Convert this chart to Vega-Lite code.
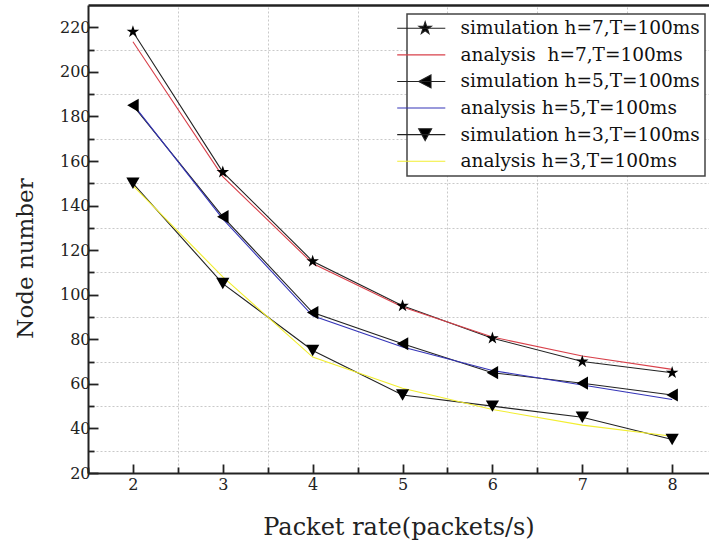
{
  "$schema": "https://vega.github.io/schema/vega-lite/v6.json",
  "width": 621,
  "height": 468,
  "autosize": "none",
  "padding": {"left": 88, "top": 5, "right": 0, "bottom": 74},
  "background": "white",
  "config": {
    "view": {"stroke": null},
    "font": "DejaVu Serif",
    "axis": {
      "labelFont": "DejaVu Serif",
      "titleFont": "DejaVu Serif",
      "labelColor": "#222",
      "titleColor": "#222",
      "domainColor": "#222",
      "tickColor": "#222"
    }
  },
  "data": {
    "values": [
      {"x": 2, "y": 218, "series": "simulation h=7,T=100ms", "type": "sim"},
      {"x": 3, "y": 155, "series": "simulation h=7,T=100ms", "type": "sim"},
      {"x": 4, "y": 115, "series": "simulation h=7,T=100ms", "type": "sim"},
      {"x": 5, "y": 95, "series": "simulation h=7,T=100ms", "type": "sim"},
      {"x": 6, "y": 80.5, "series": "simulation h=7,T=100ms", "type": "sim"},
      {"x": 7, "y": 70, "series": "simulation h=7,T=100ms", "type": "sim"},
      {"x": 8, "y": 65, "series": "simulation h=7,T=100ms", "type": "sim"},
      {"x": 2, "y": 213.5, "series": "analysis\u00a0 h=7,T=100ms", "type": "ana"},
      {"x": 3, "y": 153, "series": "analysis\u00a0 h=7,T=100ms", "type": "ana"},
      {"x": 4, "y": 114, "series": "analysis\u00a0 h=7,T=100ms", "type": "ana"},
      {"x": 5, "y": 94.5, "series": "analysis\u00a0 h=7,T=100ms", "type": "ana"},
      {"x": 6, "y": 81, "series": "analysis\u00a0 h=7,T=100ms", "type": "ana"},
      {"x": 7, "y": 72.5, "series": "analysis\u00a0 h=7,T=100ms", "type": "ana"},
      {"x": 8, "y": 66.5, "series": "analysis\u00a0 h=7,T=100ms", "type": "ana"},
      {"x": 2, "y": 185, "series": "simulation h=5,T=100ms", "type": "sim"},
      {"x": 3, "y": 135, "series": "simulation h=5,T=100ms", "type": "sim"},
      {"x": 4, "y": 92, "series": "simulation h=5,T=100ms", "type": "sim"},
      {"x": 5, "y": 78, "series": "simulation h=5,T=100ms", "type": "sim"},
      {"x": 6, "y": 65, "series": "simulation h=5,T=100ms", "type": "sim"},
      {"x": 7, "y": 60.3, "series": "simulation h=5,T=100ms", "type": "sim"},
      {"x": 8, "y": 55, "series": "simulation h=5,T=100ms", "type": "sim"},
      {"x": 2, "y": 185.5, "series": "analysis h=5,T=100ms", "type": "ana"},
      {"x": 3, "y": 134, "series": "analysis h=5,T=100ms", "type": "ana"},
      {"x": 4, "y": 90.5, "series": "analysis h=5,T=100ms", "type": "ana"},
      {"x": 5, "y": 76.5, "series": "analysis h=5,T=100ms", "type": "ana"},
      {"x": 6, "y": 66, "series": "analysis h=5,T=100ms", "type": "ana"},
      {"x": 7, "y": 59.5, "series": "analysis h=5,T=100ms", "type": "ana"},
      {"x": 8, "y": 53, "series": "analysis h=5,T=100ms", "type": "ana"},
      {"x": 2, "y": 150, "series": "simulation h=3,T=100ms", "type": "sim"},
      {"x": 3, "y": 105, "series": "simulation h=3,T=100ms", "type": "sim"},
      {"x": 4, "y": 75, "series": "simulation h=3,T=100ms", "type": "sim"},
      {"x": 5, "y": 55, "series": "simulation h=3,T=100ms", "type": "sim"},
      {"x": 6, "y": 50, "series": "simulation h=3,T=100ms", "type": "sim"},
      {"x": 7, "y": 45, "series": "simulation h=3,T=100ms", "type": "sim"},
      {"x": 8, "y": 35, "series": "simulation h=3,T=100ms", "type": "sim"},
      {"x": 2, "y": 149, "series": "analysis h=3,T=100ms", "type": "ana"},
      {"x": 3, "y": 108, "series": "analysis h=3,T=100ms", "type": "ana"},
      {"x": 4, "y": 72, "series": "analysis h=3,T=100ms", "type": "ana"},
      {"x": 5, "y": 58, "series": "analysis h=3,T=100ms", "type": "ana"},
      {"x": 6, "y": 48.5, "series": "analysis h=3,T=100ms", "type": "ana"},
      {"x": 7, "y": 41.5, "series": "analysis h=3,T=100ms", "type": "ana"},
      {"x": 8, "y": 36.5, "series": "analysis h=3,T=100ms", "type": "ana"}
    ]
  },
  "resolve": {"axis": {"x": "independent", "y": "independent"}},
  "layer": [
    {
      "mark": {"type": "line", "strokeWidth": 1.1},
      "encoding": {
        "x": {
          "field": "x", "type": "quantitative",
          "scale": {"domain": [1.5, 8.41], "nice": false, "zero": false},
          "axis": {
            "values": [1.5, 2, 2.5, 3, 3.5, 4, 4.5, 5, 5.5, 6, 6.5, 7, 7.5, 8],
            "labelExpr": "datum.value % 1 === 0 ? format(datum.value, 'd') : ''",
            "title": "Packet rate(packets/s)",
            "titleFontSize": 24,
            "titleFontWeight": "normal",
            "titleBaseline": "middle",
            "titleY": 54,
            "labelFontSize": 16,
            "labelPadding": 12,
            "tickSize": {"condition": {"test": "datum.value % 1 === 0", "value": -9}, "value": -6},
            "tickWidth": 1.8,
            "domainWidth": 2,
            "grid": false
          }
        },
        "y": {
          "field": "y", "type": "quantitative",
          "scale": {"domain": [20, 230], "nice": false, "zero": false},
          "axis": {
            "values": [20, 30, 40, 50, 60, 70, 80, 90, 100, 110, 120, 130, 140, 150, 160, 170, 180, 190, 200, 210, 220],
            "labelExpr": "datum.value % 20 === 0 ? datum.label : ''",
            "title": "Node number",
            "titleFontSize": 23,
            "titleFontWeight": "normal",
            "titleBaseline": "middle",
            "titleX": -63,
            "titleY": 253,
            "labelFontSize": 16,
            "labelPadding": 8,
            "tickSize": {"condition": {"test": "datum.value % 20 === 0", "value": -10}, "value": -6},
            "tickWidth": 1.8,
            "domainWidth": 2,
            "grid": false
          }
        },
        "color": {
          "field": "series", "type": "nominal",
          "scale": {
            "domain": ["simulation h=7,T=100ms", "analysis\u00a0 h=7,T=100ms", "simulation h=5,T=100ms", "analysis h=5,T=100ms", "simulation h=3,T=100ms", "analysis h=3,T=100ms"],
            "range": ["#222222", "#d8404a", "#222222", "#3434b8", "#222222", "#f2ee30"]
          },
          "legend": {
            "orient": "none",
            "legendX": 319,
            "legendY": 9,
            "title": null,
            "labelFont": "DejaVu Serif",
            "labelFontSize": 18.5,
            "labelColor": "#111",
            "labelOffset": 30,
            "labelLimit": 400,
            "rowPadding": 7.6,
            "padding": 5,
            "strokeColor": "#444",
            "fillColor": "white",
            "symbolSize": 169,
            "symbolStrokeWidth": 1.1,
            "encode": {
              "symbols": {
                "update": {
                  "shape": {"signal": "datum.value === 'simulation h=7,T=100ms' ? 'M-3.7,0H3.7M0.6,-1L0.825,-0.309L1.551,-0.309L0.963,0.118L1.188,0.809L0.6,0.382L0.012,0.809L0.237,0.118L-0.351,-0.309L0.375,-0.309Z' : datum.value === 'simulation h=5,T=100ms' ? 'M-3.7,0H3.7M-0.4,0L1.5,-1L1.5,1Z' : datum.value === 'simulation h=3,T=100ms' ? 'M-3.7,0H3.7M-0.4,-0.9L1.6,-0.9L0.6,0.9Z' : 'M-3.7,0H3.7'"},
                  "fill": {"signal": "indexof(datum.value, 'simulation') === 0 ? '#000000' : 'transparent'"},
                  "fillOpacity": {"value": 1},
                  "strokeWidth": {"value": 1.1}
                }
              },
              "legend": {"update": {"strokeWidth": {"value": 1.5}}}
            }
          }
        }
      }
    },
    {
      "transform": [{"filter": "datum.type === 'sim'"}],
      "mark": {"type": "point", "filled": true, "color": "black", "opacity": 1, "size": 175},
      "encoding": {
        "x": {
          "field": "x", "type": "quantitative",
          "axis": {
            "orient": "top",
            "values": [2.5, 3.5, 4.5, 5.5, 6.5, 7.5],
            "domain": true, "domainWidth": 2.5, "domainColor": "#222",
            "ticks": false, "labels": false, "title": null,
            "grid": true, "gridDash": [2, 2], "gridColor": "#bbbbbb", "gridWidth": 0.8
          }
        },
        "y": {
          "field": "y", "type": "quantitative",
          "axis": {
            "orient": "left",
            "values": [30, 50, 70, 90, 110, 130, 150, 170, 190, 210],
            "domain": false, "ticks": false, "labels": false, "title": null,
            "grid": true, "gridDash": [2, 2], "gridColor": "#bbbbbb", "gridWidth": 0.8
          }
        },
        "shape": {
          "field": "series", "type": "nominal",
          "scale": {
            "domain": ["simulation h=7,T=100ms", "simulation h=5,T=100ms", "simulation h=3,T=100ms"],
            "range": ["M0,-1L0.225,-0.309L0.951,-0.309L0.363,0.118L0.588,0.809L0,0.382L-0.588,0.809L-0.363,0.118L-0.951,-0.309L-0.225,-0.309Z", "triangle-left", "triangle-down"]
          },
          "legend": null
        }
      }
    }
  ]
}
